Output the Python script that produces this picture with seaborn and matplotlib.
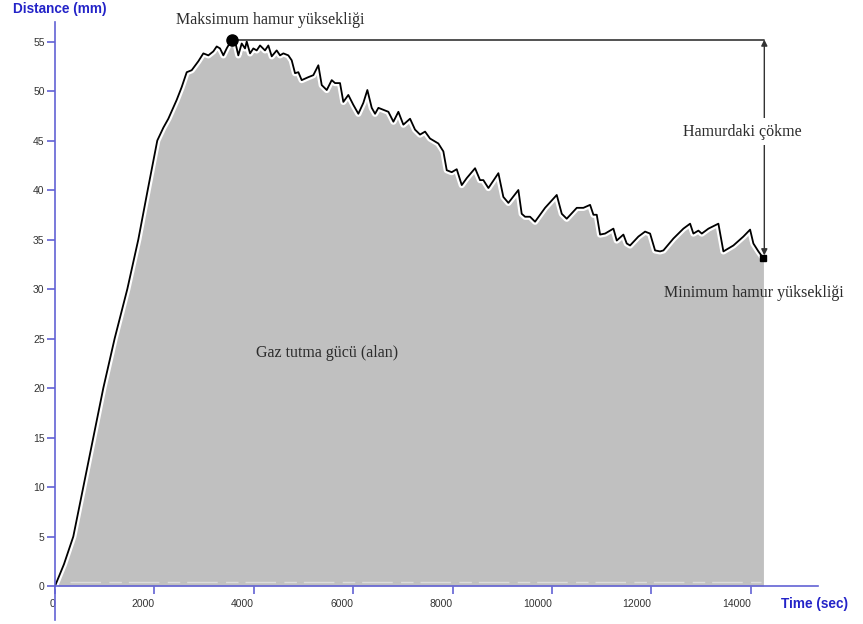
import matplotlib
matplotlib.use('Agg')
import matplotlib.pyplot as plt
import matplotlib.patheffects as pe
import seaborn as sns
import pandas as pd

#------------ Data ------------#
time_sec = [0, 180, 368, 570, 771, 972, 1200, 1455, 1676, 1865, 2058, 2180, 2280,
            2448, 2549, 2650, 2750, 2883, 2984, 3085, 3185, 3253, 3320, 3387, 3454,
            3555, 3642, 3688, 3756, 3823, 3857, 3924, 3990, 4058, 4125, 4225, 4292,
            4360, 4460, 4527, 4594, 4694, 4762, 4829, 4896, 4963, 5097, 5197, 5298,
            5366, 5467, 5567, 5634, 5734, 5801, 5901, 6002, 6103, 6203, 6284, 6372,
            6439, 6506, 6606, 6707, 6808, 6908, 7008, 7143, 7243, 7344, 7445, 7545,
            7646, 7712, 7813, 7881, 7981, 8082, 8183, 8283, 8451, 8551, 8618, 8719,
            8920, 9020, 9121, 9322, 9389, 9457, 9557, 9658, 9859, 10094, 10195, 10295,
            10497, 10630, 10765, 10832, 10899, 10966, 11066, 11234, 11301, 11435,
            11502, 11569, 11737, 11871, 11972, 12072, 12173, 12240, 12441, 12642,
            12777, 12843, 12944, 13012, 13146, 13346, 13447, 13648, 13849, 13984,
            14050, 14151, 14252]
distance_mm = [0, 2.2, 5, 10, 15, 20, 25, 30, 35, 40, 45, 46.3, 47.2,
               49.1, 50.4, 51.9, 52.1, 53.0, 53.8, 53.6, 54.0, 54.5, 54.3, 53.6, 54.3,
               55.2, 54.6, 53.6, 54.8, 54.3, 55.0, 53.8, 54.3, 54.1, 54.6, 54.1, 54.6,
               53.5, 54.1, 53.6, 53.8, 53.6, 53.1, 51.8, 51.9, 51.1, 51.4, 51.6, 52.6,
               50.6, 50.1, 51.1, 50.8, 50.8, 48.9, 49.6, 48.6, 47.7, 48.8, 50.1, 48.3,
               47.7, 48.3, 48.1, 47.9, 46.9, 47.9, 46.6, 47.2, 46.1, 45.6, 45.9, 45.2,
               44.9, 44.7, 43.9, 42.0, 41.8, 42.1, 40.5, 41.2, 42.2, 41.0, 41.0, 40.2,
               41.7, 39.3, 38.7, 40.0, 37.6, 37.3, 37.3, 36.8, 38.2, 39.5, 37.6, 37.1,
               38.2, 38.2, 38.5, 37.5, 37.5, 35.5, 35.6, 36.1, 34.9, 35.5,
               34.6, 34.4, 35.3, 35.8, 35.6, 33.9, 33.8, 33.9, 35.1, 36.1,
               36.6, 35.6, 35.9, 35.6, 36.1, 36.6, 33.8, 34.4, 35.3, 36.0,
               34.6, 33.8, 33.1]

x_ticks = list(range(0, 14001, 2000))
y_ticks = list(range(0, 56, 5))

max_time, max_dist = 3555, 55.2
min_time, min_dist = 14252, 33.1
arrow_time = 14270

df = pd.DataFrame({'time': time_sec, 'distance': distance_mm})

#------------ Style ------------#
sns.set_theme(style='white')
plt.rcParams['font.family'] = ['Liberation Sans Narrow', 'Liberation Sans', 'DejaVu Sans']
axis_blue = '#6262d4'
label_blue = '#2424c8'
text_col = '#2c2c2c'

fig = plt.figure(figsize=(8.63, 6.24), dpi=100)
ax = fig.add_axes([55/863, 4/624, 763/863, 598/624])

# gray area (gas retention)
ax.fill_between(df['time'], 0, df['distance'], color='#c0c0c0', lw=0, zorder=1)
ax.plot([300, 14200], [0.4, 0.4], color='white', lw=1.0, alpha=0.45,
        dashes=(22, 6, 9, 5), zorder=2)

# dough height curve
sns.lineplot(data=df, x='time', y='distance', ax=ax, color='black', lw=1.3,
             sort=False, zorder=3,
             path_effects=[pe.withStroke(linewidth=4.5, foreground='white')])

# max line and markers
ax.plot([max_time, arrow_time], [max_dist, max_dist], color='#444444', lw=1.3, zorder=3)
ax.plot([max_time], [max_dist], 'o', color='black', ms=8, zorder=4)
ax.plot([min_time], [min_dist], 's', color='black', ms=5, zorder=4)
ax.annotate('', xy=(arrow_time, max_dist), xytext=(arrow_time, min_dist + 0.3),
            arrowprops=dict(arrowstyle='<|-|>', color='#333333', lw=1.0,
                            mutation_scale=9, shrinkA=0, shrinkB=0), zorder=3)

serif = ['Liberation Serif', 'DejaVu Serif']
ax.text(2435, 57.2, 'Maksimum hamur yüksekliği', ha='left', va='center',
        fontsize=11.5, family=serif, color=text_col)
ax.text(13823, 45.9, 'Hamurdaki çökme', ha='center', va='center', fontsize=11.5,
        family=serif, color=text_col, zorder=5,
        bbox=dict(facecolor='white', edgecolor='none', pad=4))
ax.text(14064, 29.6, 'Minimum hamur yüksekliği', ha='center', va='center',
        fontsize=11.5, family=serif, color=text_col)
ax.text(5473, 23.5, 'Gaz tutma gücü (alan)', ha='center', va='center',
        fontsize=11.5, family=serif, color=text_col)

#------------ Axes ------------#
ax.set_xlim(0, 15350)
ax.set_ylim(-3.43, 56.97)
ax.spines['top'].set_visible(False)
ax.spines['right'].set_visible(False)
ax.spines['bottom'].set_position(('data', 0))
for s in ['left', 'bottom']:
    ax.spines[s].set_color(axis_blue)
    ax.spines[s].set_linewidth(1.2)
    ax.spines[s].set_zorder(6)

ax.set_xticks(x_ticks)
ax.set_xticklabels([str(v) for v in x_ticks], ha='right')
ax.set_yticks(y_ticks)
ax.tick_params(axis='both', direction='out', length=6, width=1.2, color=axis_blue,
               labelsize=7.5, labelcolor='#333333', pad=1.5)
ax.tick_params(axis='x', pad=3)
ax.tick_params(axis='x', bottom=True)
ax.tick_params(axis='y', left=True)
ax.set_xlabel('')
ax.set_ylabel('')

fig.text(13/863, 1 - 9/624, 'Distance (mm)', ha='left', va='center',
         fontsize=9.8, fontweight='bold', color=label_blue)
fig.text(781/863, 1 - 604/624, 'Time (sec)', ha='left', va='center',
         fontsize=9.8, fontweight='bold', color=label_blue)

plt.savefig('out.png', dpi=100)
